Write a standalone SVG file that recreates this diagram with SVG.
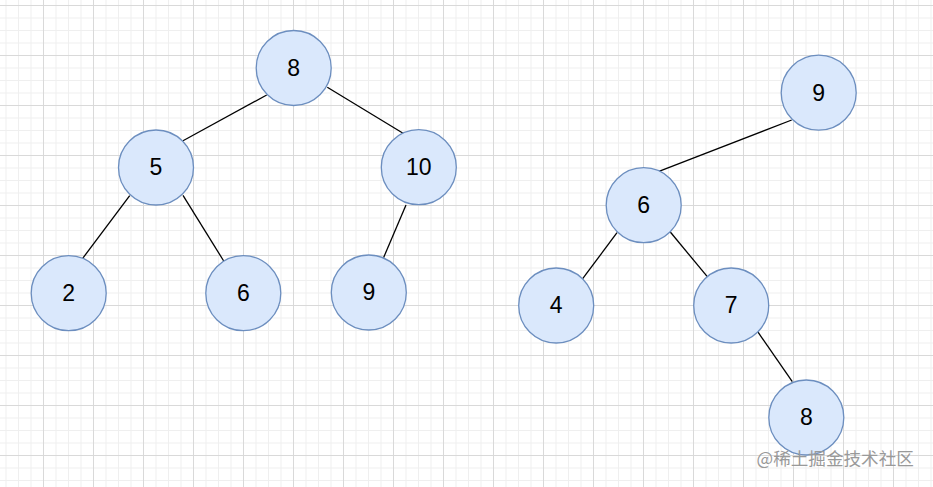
<svg xmlns="http://www.w3.org/2000/svg" width="933" height="487" viewBox="0 0 933 487">
<style>
.node circle{fill:#dae8fc;stroke:#6c8ebf;stroke-width:1.3}
.node text{font-family:"Liberation Sans",Arial,sans-serif;font-size:23px;fill:#000;text-anchor:middle}
.edge{stroke:#000;stroke-width:1.3;fill:none}
.wm{font-family:"Noto Sans CJK SC","Liberation Sans",sans-serif;font-size:17.6px;fill:#999999}
</style>
<defs>
<pattern id="grid" patternUnits="userSpaceOnUse" x="43" y="5" width="50" height="50">
<rect x="0" y="0" width="50" height="50" fill="#ffffff"/>
<rect x="12.5" y="0" width="1" height="50" fill="#efefef"/>
<rect x="25" y="0" width="1" height="50" fill="#efefef"/>
<rect x="37.5" y="0" width="1" height="50" fill="#efefef"/>
<rect x="0" y="12.5" width="50" height="1" fill="#efefef"/>
<rect x="0" y="25" width="50" height="1" fill="#efefef"/>
<rect x="0" y="37.5" width="50" height="1" fill="#efefef"/>
<rect x="0" y="0" width="1" height="50" fill="#d9d9d9"/>
<rect x="0" y="0" width="50" height="1" fill="#d9d9d9"/>
</pattern>
</defs>
<rect x="0" y="0" width="933" height="487" fill="url(#grid)"/>
<g id="connectors">
<line class="edge" x1="266.7" y1="95" x2="183" y2="140.7"/>
<line class="edge" x1="327.3" y1="87.3" x2="404.3" y2="134"/>
<line class="edge" x1="129.7" y1="195.7" x2="82.7" y2="258.3"/>
<line class="edge" x1="183" y1="195.3" x2="223.7" y2="261"/>
<line class="edge" x1="406" y1="205" x2="383.3" y2="258.3"/>
<line class="edge" x1="791.7" y1="120" x2="658.3" y2="171.7"/>
<line class="edge" x1="617" y1="232.7" x2="582.7" y2="278.7"/>
<line class="edge" x1="670.3" y1="232" x2="707.3" y2="276.7"/>
<line class="edge" x1="757.7" y1="331.7" x2="792.3" y2="381.7"/>
</g>
<g id="n8" class="node"><circle cx="293.7" cy="68" r="37.5"/><text x="293.7" y="75.8">8</text></g>
<g id="n5" class="node"><circle cx="156" cy="167.5" r="37.5"/><text x="156" y="175.3">5</text></g>
<g id="n10" class="node"><circle cx="418.8" cy="167.2" r="37.5"/><text x="418.8" y="175">10</text></g>
<g id="n2" class="node"><circle cx="68.7" cy="293.2" r="37.5"/><text x="68.7" y="301">2</text></g>
<g id="n6" class="node"><circle cx="243.3" cy="293.2" r="37.5"/><text x="243.3" y="301">6</text></g>
<g id="n9" class="node"><circle cx="368.8" cy="292.5" r="37.5"/><text x="368.8" y="300.3">9</text></g>
<g id="m9" class="node"><circle cx="818.7" cy="92.7" r="37.5"/><text x="818.7" y="100.5">9</text></g>
<g id="m6" class="node"><circle cx="643.7" cy="205.2" r="37.5"/><text x="643.7" y="213">6</text></g>
<g id="m4" class="node"><circle cx="556.2" cy="305.5" r="37.5"/><text x="556.2" y="313.3">4</text></g>
<g id="m7" class="node"><circle cx="731.2" cy="305.5" r="37.5"/><text x="731.2" y="313.3">7</text></g>
<g id="m8" class="node"><circle cx="806.3" cy="417.5" r="37.5"/><text x="806.3" y="425.3">8</text></g>
<text class="wm" x="756.5" y="465">@稀土掘金技术社区</text>
</svg>
